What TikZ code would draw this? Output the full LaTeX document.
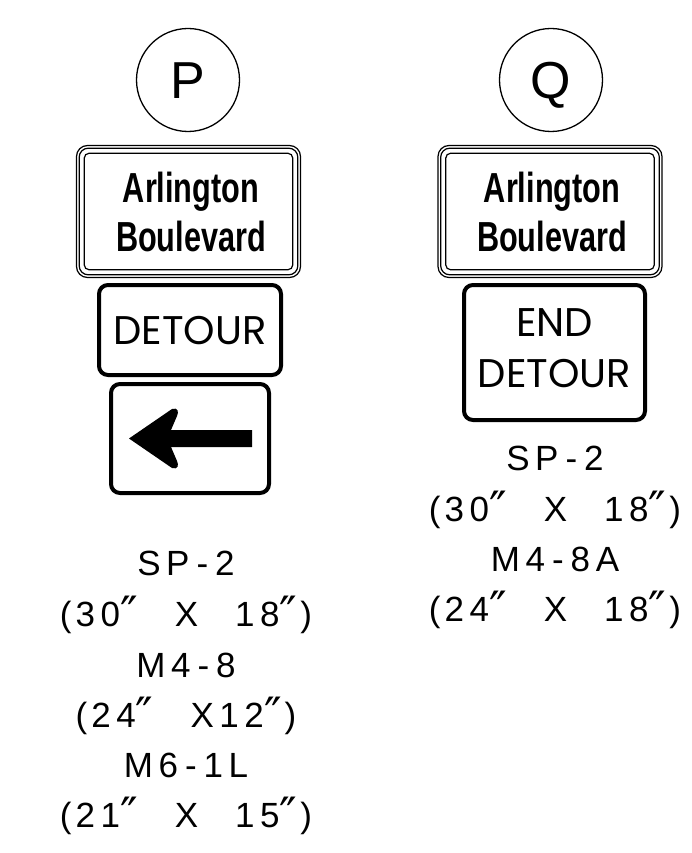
\documentclass[tikz,border=0pt]{standalone}
\usepackage{fontspec}
\setmainfont{Liberation Sans}
\newfontfamily\geofont{Poppins}
\newfontfamily\labfont{Liberation Sans}[LetterSpace=16]
\newfontfamily\primefont{DejaVu Sans}
\newcommand{\dpr}{\raisebox{-4pt}{\scalebox{1.35}{\primefont ″}}}
\newcommand{\gap}{\hspace{37pt}}
\newcommand{\hy}{\hspace{7pt}-\hspace{7pt}}
\newcommand{\lp}{(\hspace{4pt}}
\newcommand{\rp}{\hspace{3pt})}
\begin{document}
\begin{tikzpicture}[x=1pt,y=-1pt,
  ring/.style={draw,circle,line width=1.3pt,minimum size=103pt,inner sep=0pt},
  letter/.style={anchor=base,inner sep=0pt,font=\fontsize{52}{52}\selectfont},
  thinframe/.style={draw,line width=1.2pt,rectangle,inner sep=0pt},
  heavy/.style={draw,line width=4pt,rectangle,rounded corners=9pt,inner sep=0pt},
  arl/.style={anchor=base,inner sep=0pt,font=\fontsize{42}{42}\selectfont\bfseries},
  geo/.style={anchor=base,inner sep=0pt,font=\geofont\fontsize{40}{40}\selectfont},
  lab/.style={anchor=base,inner sep=0pt,font=\labfont\fontsize{35}{35}\selectfont}]
\useasboundingbox (0,0) rectangle (692,853);

% ---------- column P ----------
\node[ring] (cP) at (188,80) {};
\node[letter] (tP) at (188,99) {P};

\node[thinframe,minimum width=224pt,minimum height=132pt,rounded corners=11pt] (aP) at (188.5,211.5) {};
\node[thinframe,minimum width=218.6pt,minimum height=126.6pt,rounded corners=9pt] (aP2) at (aP) {};
\node[thinframe,minimum width=208.6pt,minimum height=116.6pt,rounded corners=5pt] (aP3) at (aP) {};
\node[arl] (aP1t) at (191,202) {\scalebox{0.73}[1]{Arlington}};
\node[arl] (aP2t) at (191,251) {\scalebox{0.73}[1]{Boulevard}};

\node[heavy,minimum width=182pt,minimum height=90pt] (dP) at (190,330) {};
\node[geo] (dPt) at (190,344) {DETOUR};

\node[heavy,minimum width=158pt,minimum height=109pt] (arP) at (190,438.5) {};
\fill (129,438.5) -- (172,409) .. controls (178,407) and (179,412) .. (177,416)
  -- (171,430) -- (252,430) -- (252,447) -- (171,447) -- (177,461)
  .. controls (179,465) and (178,470) .. (172,468) -- cycle;

\node[lab] (lP1) at (186,575) {SP\hy 2};
\node[lab] (lP2) at (186,626) {\lp 30\dpr\gap X\gap 18\dpr\rp};
\node[lab] (lP3) at (186,677) {M4\hy 8};
\node[lab] (lP4) at (186,727) {\lp 24\dpr\gap X12\dpr\rp};
\node[lab] (lP5) at (186,777) {M6\hy 1L};
\node[lab] (lP6) at (186,827) {\lp 21\dpr\gap X\gap 15\dpr\rp};

% ---------- column Q ----------
\node[ring] (cQ) at (551,80) {};
\node[letter] (tQ) at (551,99) {Q};

\node[thinframe,minimum width=224pt,minimum height=132pt,rounded corners=11pt] (aQ) at (550,211.5) {};
\node[thinframe,minimum width=218.6pt,minimum height=126.6pt,rounded corners=9pt] (aQ2) at (aQ) {};
\node[thinframe,minimum width=208.6pt,minimum height=116.6pt,rounded corners=5pt] (aQ3) at (aQ) {};
\node[arl] (aQ1t) at (552,202) {\scalebox{0.73}[1]{Arlington}};
\node[arl] (aQ2t) at (552,251) {\scalebox{0.73}[1]{Boulevard}};

\node[heavy,minimum width=181pt,minimum height=135pt] (eQ) at (554.5,352.5) {};
\node[geo] (eQ1) at (554.5,336) {END};
\node[geo] (eQ2) at (554.5,387) {DETOUR};

\node[lab] (lQ1) at (555,470) {SP\hy 2};
\node[lab] (lQ2) at (555,521) {\lp 30\dpr\gap X\gap 18\dpr\rp};
\node[lab] (lQ3) at (555,571) {M4\hy 8A};
\node[lab] (lQ4) at (555,621) {\lp 24\dpr\gap X\gap 18\dpr\rp};
\end{tikzpicture}
\end{document}
